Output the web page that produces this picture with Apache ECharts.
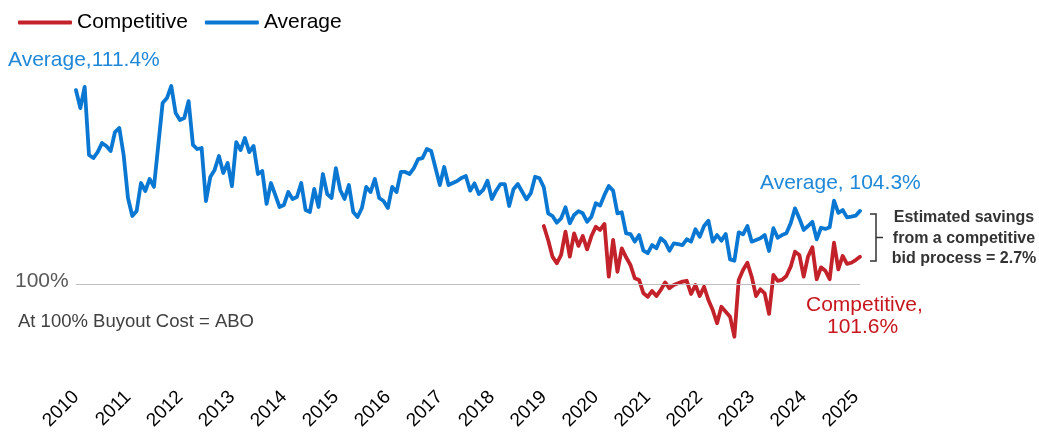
<!DOCTYPE html>
<html>
<head>
<meta charset="utf-8">
<script src="https://cdn.jsdelivr.net/npm/echarts@6/dist/echarts.min.js"></script>
<style>
html,body{margin:0;padding:0;background:#fff;}
#c{width:1039px;height:434px;}
</style>
</head>
<body>
<div id="c"></div>
<script>
// Year tick labels (one category per month from Jan 2010, last point Feb 2025)
const yearLabels = ['2010','2011','2012','2013','2014','2015','2016','2017','2018','2019','2020','2021','2022','2023','2024','2025'];
const lastYearMonths = 2;

// Average buyout cost (% of ABO), monthly, Jan 2010 .. Feb 2025
const average = [
111.4,110.35,111.59,107.59,107.41,107.76,108.29,108.12,107.82,108.94,109.18,107.59,
105.06,104.0,104.29,105.94,105.47,106.18,105.71,108.18,110.65,110.94,111.65,110.06,
109.65,109.76,110.76,108.18,107.94,108.0,104.88,106.29,106.71,107.53,106.53,107.12,
105.76,108.35,107.88,108.59,107.76,108.12,106.47,106.65,104.71,105.94,105.24,104.53,
104.65,105.41,105.0,105.12,105.94,104.35,104.24,105.59,104.53,106.47,105.29,105.06,
106.82,105.53,105.0,105.82,104.24,103.94,104.47,105.71,105.41,106.18,105.06,104.88,
104.47,105.71,105.41,106.59,106.59,106.47,106.82,107.35,107.41,107.94,107.82,106.82,
105.82,106.88,105.82,105.94,106.06,106.24,106.35,105.49,105.92,105.29,105.53,106.08,
105.0,105.49,105.88,105.88,104.59,105.57,105.88,105.43,104.98,105.34,106.31,106.22,
105.69,104.16,104.0,103.61,103.86,104.51,103.57,104.06,104.29,104.16,103.66,103.96,
104.75,104.61,105.24,105.76,105.49,104.16,104.22,102.98,102.94,102.49,102.88,101.96,
101.81,102.29,102.10,102.69,102.47,101.96,102.39,102.34,102.29,102.63,102.49,103.22,
102.78,103.41,103.72,102.49,102.88,102.55,102.94,101.45,101.37,103.04,102.92,103.41,
102.49,102.59,102.69,102.88,101.94,103.28,102.72,102.88,102.98,103.57,104.45,103.86,
103.18,103.41,103.66,102.63,103.31,103.24,103.34,104.90,104.19,104.35,103.92,103.96,
104.02,104.3
];

// Competitive bid buyout cost (% of ABO), monthly, Jan 2019 .. Feb 2025
const competitiveStart = '2019-01';
const competitive = [
103.41,102.59,101.61,101.22,101.71,103.08,101.61,102.98,102.24,102.82,102.04,102.82,
103.37,103.18,103.53,100.43,102.59,100.72,102.10,101.57,101.12,100.34,100.24,99.45,
99.25,99.59,99.29,99.65,100.09,99.75,99.94,100.04,100.14,100.19,99.41,99.94,
99.29,99.84,99.06,98.47,97.69,98.66,98.37,98.08,96.90,100.24,100.82,101.25,
100.43,99.29,99.69,99.45,98.24,100.53,100.19,100.24,100.47,101.02,101.90,101.71,
100.43,101.61,102.16,100.28,100.98,100.78,100.28,102.43,100.86,101.65,101.18,101.25,
101.41,101.6
];

// Build monthly categories
const months = [];
yearLabels.forEach((y, yi) => {
  const n = yi === yearLabels.length - 1 ? lastYearMonths : 12;
  for (let m = 1; m <= n; m++) months.push(y + '-' + String(m).padStart(2, '0'));
});
const compOffset = months.indexOf(competitiveStart);
const competitiveFull = months.map((_, i) => (i >= compOffset && i - compOffset < competitive.length) ? competitive[i - compOffset] : null);

const BLUE = '#0a78d2';
const RED = '#c3222b';
const FONT = '"Liberation Sans", Arial, sans-serif';

const chart = echarts.init(document.getElementById('c'), null, {renderer: 'canvas'});
chart.setOption({
  animation: false,
  backgroundColor: '#ffffff',
  textStyle: {fontFamily: FONT},
  legend: {
    left: 13, top: 7,
    itemWidth: 54, itemHeight: 4, itemGap: 17,
    icon: 'roundRect',
    textStyle: {fontSize: 21, color: '#000', fontFamily: FONT},
    data: ['Competitive', 'Average']
  },
  grid: {left: 76, width: 784, top: 46, height: 340},
  xAxis: {
    type: 'category',
    data: months,
    boundaryGap: false,
    axisLine: {show: false},
    axisTick: {show: false},
    splitLine: {show: false},
    axisLabel: {
      interval: (idx) => idx % 12 === 0,
      rotate: 45,
      margin: 8,
      fontSize: 19,
      color: '#000',
      fontFamily: FONT,
      formatter: (v) => v.slice(0, 4)
    }
  },
  yAxis: {
    type: 'value', min: 94, max: 114, show: false,
    splitLine: {show: false}
  },
  series: [
    {
      name: 'Average', type: 'line', data: average,
      symbol: 'none', smooth: false, z: 3,
      itemStyle: {color: BLUE},
      lineStyle: {color: BLUE, width: 3.8, join: 'round', cap: 'round'},
      markLine: {
        silent: true, symbol: 'none', label: {show: false},
        lineStyle: {color: '#bfbfbf', width: 1, type: 'solid'},
        data: [{yAxis: 100}]
      }
    },
    {
      name: 'Competitive', type: 'line', data: competitiveFull,
      symbol: 'none', smooth: false, z: 4,
      itemStyle: {color: RED},
      lineStyle: {color: RED, width: 3.8, join: 'round', cap: 'round'}
    }
  ],
  graphic: [
    {type: 'text', left: 8, top: 50, style: {text: 'Average,111.4%', fontSize: 21, fill: '#1f88d8', fontFamily: FONT}},
    {type: 'text', left: 760, top: 173, style: {text: 'Average, 104.3%', fontSize: 21, fill: '#1f88d8', fontFamily: FONT}},
    {type: 'text', left: 806, top: 295, style: {text: 'Competitive,', fontSize: 21, fill: '#c8161f', fontFamily: FONT}},
    {type: 'text', left: 827, top: 317, style: {text: '101.6%', fontSize: 21, fill: '#c8161f', fontFamily: FONT}},
    {type: 'text', left: 15, top: 271, style: {text: '100%', fontSize: 21, fill: '#595959', fontFamily: FONT}},
    {type: 'text', left: 18, top: 312, style: {text: 'At 100% Buyout Cost = ABO', fontSize: 18.5, fill: '#404040', fontFamily: FONT}},
    {type: 'polyline', shape: {points: [[870, 214], [876, 214], [876, 261], [870, 261]]}, style: {stroke: '#333', lineWidth: 1.5, fill: null}},
    {type: 'line', shape: {x1: 876, y1: 237.5, x2: 883, y2: 237.5}, style: {stroke: '#333', lineWidth: 1.5}},
    {type: 'text', x: 964, y: 218, style: {text: 'Estimated savings', fontSize: 16, fontWeight: 'bold', fill: '#333', align: 'center', verticalAlign: 'middle', fontFamily: FONT}},
    {type: 'text', x: 964, y: 238.5, style: {text: 'from a competitive', fontSize: 16, fontWeight: 'bold', fill: '#333', align: 'center', verticalAlign: 'middle', fontFamily: FONT}},
    {type: 'text', x: 964, y: 259, style: {text: 'bid process = 2.7%', fontSize: 16, fontWeight: 'bold', fill: '#333', align: 'center', verticalAlign: 'middle', fontFamily: FONT}}
  ]
});
</script>
</body>
</html>
